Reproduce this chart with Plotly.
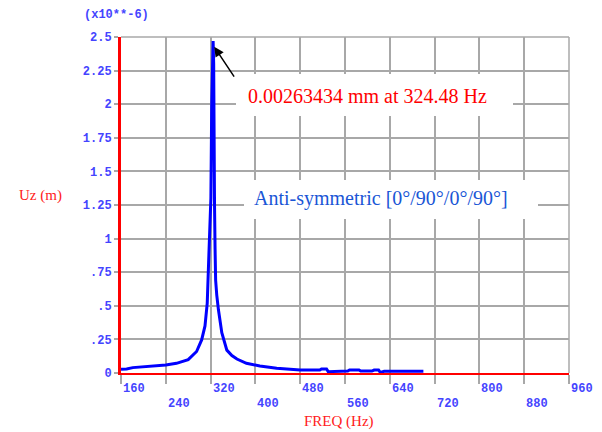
import plotly.graph_objects as go

# ---- data (Uz in units of 1e-6 m) ----
freq = [160, 170, 181, 200, 218, 240, 259, 280, 295, 304, 310, 314, 316.6, 319, 320.5,
        322, 323.3, 324.48, 325.5, 326.2, 327, 328, 329, 331, 334, 340, 349, 358, 367,
        384, 408, 438, 460, 480, 500, 515, 518, 527, 530, 545, 552, 565, 568, 585,
        588, 608, 612, 620, 623, 630, 660, 700]
uz = [0.028, 0.03, 0.04, 0.045, 0.052, 0.06, 0.072, 0.10, 0.16, 0.246, 0.35, 0.52, 0.84, 1.22, 1.30,
      2.0, 2.4, 2.47, 2.3, 1.31, 1.25, 0.92, 0.69, 0.58, 0.47, 0.30, 0.17, 0.13, 0.104,
      0.072, 0.052, 0.035, 0.028, 0.022, 0.022, 0.022, 0.03, 0.03, 0.01, 0.01, 0.015, 0.015, 0.022, 0.022,
      0.014, 0.014, 0.022, 0.022, 0.005, 0.013, 0.013, 0.013]

x_ticks = [160, 240, 320, 400, 480, 560, 640, 720, 800, 880, 960]
y_ticks = [0, 0.25, 0.5, 0.75, 1, 1.25, 1.5, 1.75, 2, 2.25, 2.5]
y_tick_text = ["0", ".25", ".5", ".75", "1", "1.25", "1.5", "1.75", "2", "2.25", "2.5"]

peak_label = "0.00263434 mm at 324.48 Hz"
case_label = "Anti-symmetric [0°/90°/0°/90°]"
peak_freq = 324.48
peak_val = 2.44

TICK_COLOR = "#4444ff"
GRID = "#a8a8a8"
MONO = "Liberation Mono, DejaVu Sans Mono, monospace"
SERIF = "Liberation Serif, Times New Roman, serif"

fig = go.Figure()
fig.add_trace(go.Scatter(x=freq, y=uz, mode="lines",
                         line=dict(color="#0000ff", width=3), hoverinfo="skip"))

# page has an 8px body margin; figure is sized to fit the window
fig.update_layout(
    width=594, height=424,
    margin=dict(l=113, r=33, t=29, b=59),
    paper_bgcolor="white", plot_bgcolor="white",
    showlegend=False,
    xaxis=dict(range=[160, 960], tickvals=x_ticks, showticklabels=False,
               showgrid=True, gridcolor=GRID, gridwidth=1.5,
               ticks="outside", ticklen=9, tickcolor=GRID, tickwidth=1.5,
               showline=True, linecolor="#ff0000", linewidth=2, zeroline=False,
               fixedrange=True),
    yaxis=dict(range=[0, 2.5], tickvals=y_ticks, ticktext=y_tick_text,
               showgrid=True, gridcolor=GRID, gridwidth=1.5,
               ticks="outside", ticklen=4, tickcolor=GRID, tickwidth=1.5,
               tickfont=dict(family=MONO, size=12, color=TICK_COLOR, weight="bold"),
               showline=True, linecolor="#ff0000", linewidth=3, zeroline=False,
               fixedrange=True),
)

# top / right border
fig.add_shape(type="line", xref="paper", yref="paper", x0=0, x1=1, y0=1, y1=1,
              line=dict(color=GRID, width=1.5), layer="below")
fig.add_shape(type="line", xref="paper", yref="paper", x0=1, x1=1, y0=0, y1=1,
              line=dict(color=GRID, width=1.5), layer="below")

# x tick labels in two staggered rows, left aligned at tick
for i, t in enumerate(x_ticks):
    fig.add_annotation(x=t, y=0, xref="x", yref="paper", text=str(t), showarrow=False,
                       xanchor="left", yanchor="middle", yshift=-16 if i % 2 == 0 else -31,
                       font=dict(family=MONO, size=12, color=TICK_COLOR, weight="bold"))

# exponent label
fig.add_annotation(x=-0.086, y=1.066, xref="paper", yref="paper", text="(x10**-6)",
                   showarrow=False, xanchor="left", yanchor="middle",
                   font=dict(family=MONO, size=12, color=TICK_COLOR, weight="bold"))

# axis titles
fig.add_annotation(x=-0.233, y=0.527, xref="paper", yref="paper", text="Uz (m)",
                   showarrow=False, xanchor="left", yanchor="middle",
                   font=dict(family=SERIF, size=15, color="#ff2020"))
fig.add_annotation(x=0.4866, y=-0.143, xref="paper", yref="paper", text="FREQ (Hz)",
                   showarrow=False, xanchor="center", yanchor="middle",
                   font=dict(family=SERIF, size=15, color="#ff2020"))

# white boxes breaking the grid (pixel sized)
fig.add_annotation(x=0.2567, y=0.890, xref="paper", yref="paper", text=" ",
                   showarrow=False, xanchor="left", yanchor="top",
                   width=277, height=42, bgcolor="white", borderpad=0, borderwidth=0)
fig.add_annotation(x=0.2746, y=0.574, xref="paper", yref="paper", text=" ",
                   showarrow=False, xanchor="left", yanchor="top",
                   width=294, height=39, bgcolor="white", borderpad=0, borderwidth=0)

fig.add_annotation(x=0.5513, y=0.8244, xref="paper", yref="paper", text=peak_label,
                   showarrow=False, xanchor="center", yanchor="middle",
                   font=dict(family=SERIF, size=20, color="#ff0000"))
fig.add_annotation(x=0.580, y=0.518, xref="paper", yref="paper", text=case_label,
                   showarrow=False, xanchor="center", yanchor="middle",
                   font=dict(family=SERIF, size=20, color="#1a56d6"))

# arrow to the peak
fig.add_annotation(x=peak_freq, y=peak_val, xref="x", yref="y", text="",
                   showarrow=True, ax=22, ay=33, arrowhead=2, arrowsize=1.3,
                   arrowwidth=1.5, arrowcolor="black", standoff=2)

fig.write_html("out.html")
